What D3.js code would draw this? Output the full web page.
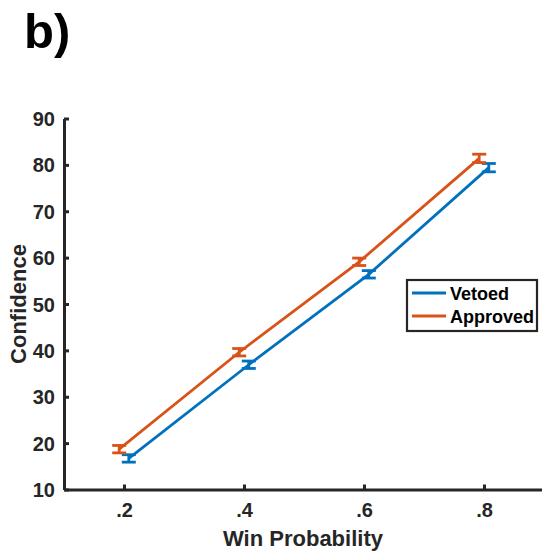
<!DOCTYPE html>
<html>
<head>
<meta charset="utf-8">
<script src="https://cdn.jsdelivr.net/npm/d3@7"></script>
<style>
  body { margin: 0; background: #fff; }
  text { font-family: "Liberation Sans", Arial, sans-serif; font-weight: bold; }
</style>
</head>
<body>
<svg id="chart"></svg>
<script>
// Data
const winProb = [0.2, 0.4, 0.6, 0.8];
const vetoed = [16.7, 36.9, 56.4, 79.4];
const vetoedErr = [0.8, 0.8, 0.8, 0.9];
const approved = [18.7, 39.6, 59.1, 81.4];
const approvedErr = [0.8, 0.8, 0.8, 0.9];
const xTicks = [0.2, 0.4, 0.6, 0.8];
const xTickLabels = [".2", ".4", ".6", ".8"];
const yTicks = [10, 20, 30, 40, 50, 60, 70, 80, 90];

const width = 542, height = 552;
const svg = d3.select("#chart").attr("width", width).attr("height", height);

const x = d3.scaleLinear().domain([0.1, 0.9]).range([64, 544]);
const y = d3.scaleLinear().domain([10, 90]).range([489.5, 118.5]);

const axisColor = "#262626";

// Panel label
svg.append("text").attr("x", 24).attr("y", 48)
    .attr("font-size", 49).attr("fill", "#000").text("b)");

// Y axis (ticks point inward)
const yAxis = svg.append("g").attr("transform", "translate(64,0)")
    .call(d3.axisLeft(y).tickValues(yTicks).tickSize(-5).tickPadding(9).tickSizeOuter(0));
// X axis
const xAxis = svg.append("g").attr("transform", "translate(0,489.5)")
    .call(d3.axisBottom(x).tickValues(xTicks).tickFormat((d, i) => xTickLabels[i])
        .tickSize(-5).tickPadding(13).tickSizeOuter(0));

[yAxis, xAxis].forEach(g => {
  g.attr("font-size", 20).attr("font-family", null);
  g.select(".domain").attr("stroke", axisColor).attr("stroke-width", 3);
  g.selectAll(".tick line").attr("stroke", axisColor).attr("stroke-width", 3);
  g.selectAll(".tick text").attr("fill", axisColor);
});
yAxis.selectAll(".tick text").attr("dy", "0.35em");

// Axis labels
svg.append("text").attr("transform", "translate(26,304) rotate(-90)")
    .attr("text-anchor", "middle").attr("font-size", 22).attr("fill", axisColor).text("Confidence");
svg.append("text").attr("x", 303).attr("y", 546)
    .attr("text-anchor", "middle").attr("font-size", 22).attr("fill", axisColor).text("Win Probability");

// Series (slight horizontal dodge, as in the figure)
const series = [
  { name: "Vetoed", vals: vetoed, err: vetoedErr, color: "#0072BD", dx: 0.008 },
  { name: "Approved", vals: approved, err: approvedErr, color: "#D95319", dx: -0.008 }
];

const line = d3.line().x(d => x(d.x)).y(d => y(d.y));
const capW = 7;

series.forEach(s => {
  const pts = winProb.map((p, i) => ({ x: p + s.dx, y: s.vals[i], e: s.err[i] }));
  const g = svg.append("g");
  g.append("path").datum(pts).attr("d", line)
      .attr("fill", "none").attr("stroke", s.color).attr("stroke-width", 2.8);
  const eb = g.selectAll(".eb").data(pts).enter().append("g");
  eb.append("line")
      .attr("x1", d => x(d.x)).attr("x2", d => x(d.x))
      .attr("y1", d => y(d.y - d.e)).attr("y2", d => y(d.y + d.e))
      .attr("stroke", s.color).attr("stroke-width", 2.8);
  [-1, 1].forEach(sg => {
    eb.append("line")
        .attr("x1", d => x(d.x) - capW).attr("x2", d => x(d.x) + capW)
        .attr("y1", d => y(d.y + sg * d.e)).attr("y2", d => y(d.y + sg * d.e))
        .attr("stroke", s.color).attr("stroke-width", 2.8);
  });
});

// Legend
const legend = svg.append("g").attr("transform", "translate(407,280)");
legend.append("rect").attr("width", 130).attr("height", 51)
    .attr("fill", "#fff").attr("stroke", axisColor).attr("stroke-width", 2.2);
series.forEach((s, i) => {
  const ly = 13 + i * 23;
  legend.append("line").attr("x1", 5).attr("x2", 39).attr("y1", ly).attr("y2", ly)
      .attr("stroke", s.color).attr("stroke-width", 2.8);
  legend.append("text").attr("x", 43).attr("y", ly + 6.5)
      .attr("font-size", 18).attr("fill", "#000").text(s.name);
});
</script>
</body>
</html>
